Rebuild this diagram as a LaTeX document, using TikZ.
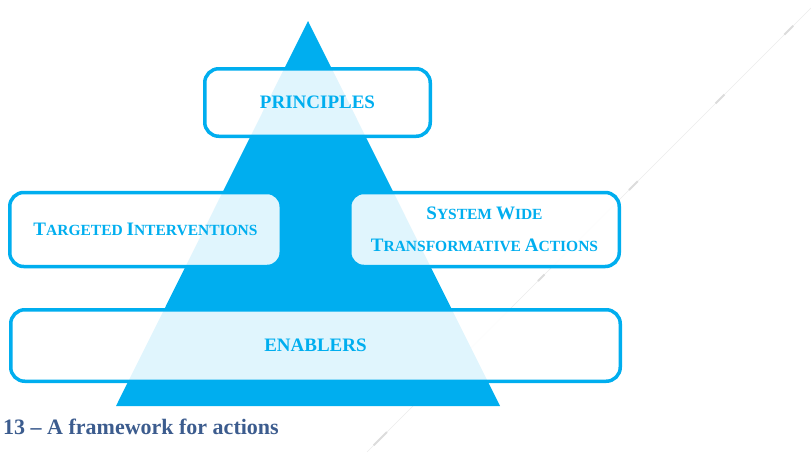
\documentclass[tikz,border=0pt]{standalone}
\usepackage{fontspec}
\usetikzlibrary{calc}
\setmainfont{Liberation Serif}
\definecolor{cyanA}{RGB}{0,174,239}
\definecolor{capblue}{RGB}{60,92,142}
\definecolor{decogray}{RGB}{236,236,236}
\definecolor{decodark}{RGB}{220,220,220}
\newcommand\BigC[1]{{\fontsize{19}{32}\selectfont #1}}
\tikzset{
  framebox/.style={draw=cyanA, line width=3.5pt, rounded corners=14pt,
    fill=white, fill opacity=0.88, text opacity=1, text=cyanA,
    align=center, inner sep=0pt,
    font=\bfseries\fontsize{15.5}{32}\selectfont},
  bigtext/.style={font=\bfseries\fontsize{19}{32}\selectfont},
  decomark/.style={decodark, line width=1.8pt},
}
\begin{document}
\begin{tikzpicture}[x=1pt,y=-1pt]
\useasboundingbox (0,0) rectangle (811,453);
% faint decorative diagonal
\coordinate (d0) at (811,8);
\coordinate (d1) at (367,452);
\draw[decogray, line width=0.6pt] (d0) -- (d1);
\draw[decomark] ($(d0)!0.04!(d1)$) -- ($(d0)!0.06!(d1)$);
\draw[decomark] ($(d0)!0.195!(d1)$) -- ($(d0)!0.215!(d1)$);
\draw[decomark] ($(d0)!0.39!(d1)$) -- ($(d0)!0.41!(d1)$);
\draw[decomark] ($(d0)!0.60!(d1)$) -- ($(d0)!0.615!(d1)$);
\draw[decomark] ($(d0)!0.955!(d1)$) -- ($(d0)!0.985!(d1)$);
% pyramid
\coordinate (tA) at (308,21);
\coordinate (tL) at (116,406);
\coordinate (tR) at (500,406);
\fill[cyanA] (tA) -- (tR) -- (tL) -- cycle;
% boxes
\node[framebox, bigtext, minimum width=225.5pt, minimum height=67.5pt] (pr) at (317.5,102.5) {PRINCIPLES};
\node[framebox, minimum width=271.5pt, minimum height=74pt] (ti) at (145.5,229.5) {\BigC{T}ARGETED \BigC{I}NTERVENTIONS};
\node[framebox, minimum width=269.5pt, minimum height=74pt] (sw) at (484.5,229.5) {\BigC{S}YSTEM \BigC{W}IDE\\\BigC{T}RANSFORMATIVE \BigC{A}CTIONS};
\node[framebox, bigtext, minimum width=609.5pt, minimum height=71.5pt] (en) at (315.5,345.5) {ENABLERS};
% caption
\node[anchor=west, inner sep=0pt, text=capblue, font=\bfseries\fontsize{22}{24}\selectfont] (cap) at (3,427) {13 – A framework for actions};
\end{tikzpicture}
\end{document}
